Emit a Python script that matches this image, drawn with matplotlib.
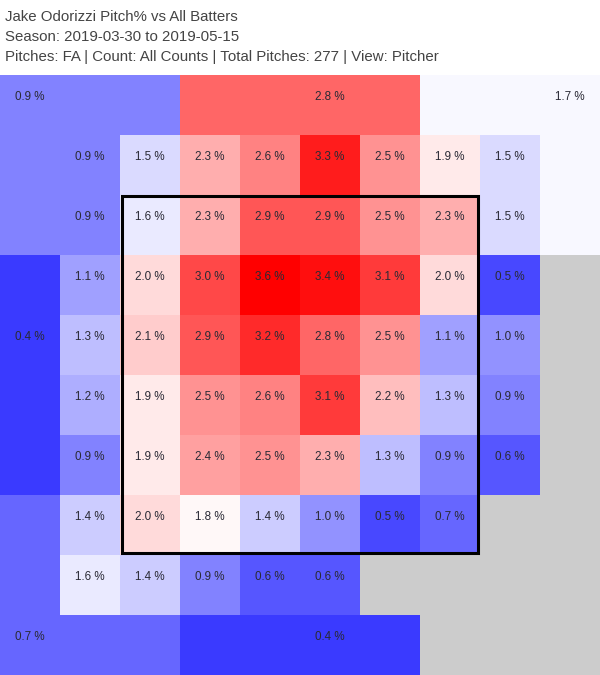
import matplotlib
matplotlib.use("Agg")
import matplotlib.pyplot as plt
import numpy as np
from matplotlib.colors import LinearSegmentedColormap, Normalize
from matplotlib.patches import Rectangle

title_lines = [
    "Jake Odorizzi Pitch% vs All Batters",
    "Season: 2019-03-30 to 2019-05-15",
    "Pitches: FA | Count: All Counts | Total Pitches: 277 | View: Pitcher",
]

# inner 8x8 zones, top row first (pitcher view); None = no pitches
inner = [
    [0.9, 1.5, 2.3, 2.6, 3.3, 2.5, 1.9, 1.5],
    [0.9, 1.6, 2.3, 2.9, 2.9, 2.5, 2.3, 1.5],
    [1.1, 2.0, 3.0, 3.6, 3.4, 3.1, 2.0, 0.5],
    [1.3, 2.1, 2.9, 3.2, 2.8, 2.5, 1.1, 1.0],
    [1.2, 1.9, 2.5, 2.6, 3.1, 2.2, 1.3, 0.9],
    [0.9, 1.9, 2.4, 2.5, 2.3, 1.3, 0.9, 0.6],
    [1.4, 2.0, 1.8, 1.4, 1.0, 0.5, 0.7, None],
    [1.6, 1.4, 0.9, 0.6, 0.6, None, None, None],
]

# outer zones around the grid
outer_keys = ["a", "b", "c", "d", "e", "f", "g", "h"]
outer_values = [0.9, 2.8, 1.7, 0.4, None, 0.7, 0.4, None]

# which outer zone each border cell belongs to, lowercase = where its label goes
layout = [
    "aAABBbBCCc",
    "A........C",
    "A........C",
    "D........E",
    "d........E",
    "D........E",
    "D........E",
    "F........H",
    "F........H",
    "fFFGGgGHHH",
]

outer = dict(zip(outer_keys, outer_values))
n = len(layout)
grid = np.full((n, n), np.nan)
labels = {}
for r in range(n):
    for c in range(n):
        ch = layout[r][c]
        if ch == ".":
            v = inner[r - 1][c - 1]
            if v is not None:
                grid[r, c] = v
                labels[(r, c)] = v
        else:
            v = outer[ch.lower()]
            if v is not None:
                grid[r, c] = v
                if ch.islower():
                    labels[(r, c)] = v

cmap = LinearSegmentedColormap.from_list("bwr2", [(0, 0, 1), (1, 1, 1), (1, 0, 0)])
cmap.set_bad("#cccccc")
norm = Normalize(vmin=0, vmax=3.5)

fig = plt.figure(figsize=(6, 6.75), dpi=100)
plt.rcParams["font.family"] = ["Liberation Sans", "DejaVu Sans"]
ax = fig.add_axes([0, 0, 1, 600 / 675])
ax.pcolormesh(np.arange(n + 1), np.arange(n + 1), np.ma.masked_invalid(grid),
              cmap=cmap, norm=norm, shading="flat")
ax.set_xlim(0, n)
ax.set_ylim(n, 0)
ax.axis("off")

for (r, c), v in labels.items():
    ax.text(c + 0.5, r + 25 / 60, f"{v:.1f} %", ha="center", va="baseline",
            fontsize=8.4, color="#2a2a35")

ax.add_patch(Rectangle((2.025, 2.02), 5.945, 5.95, fill=False,
                       edgecolor="black", linewidth=2.2, zorder=5))

for i, line in enumerate(title_lines):
    fig.text(5 / 600, 1 - (21 + 20 * i) / 675, line, ha="left", va="baseline",
             fontsize=10.8, color="#444444")

fig.savefig("out.png", dpi=100)
